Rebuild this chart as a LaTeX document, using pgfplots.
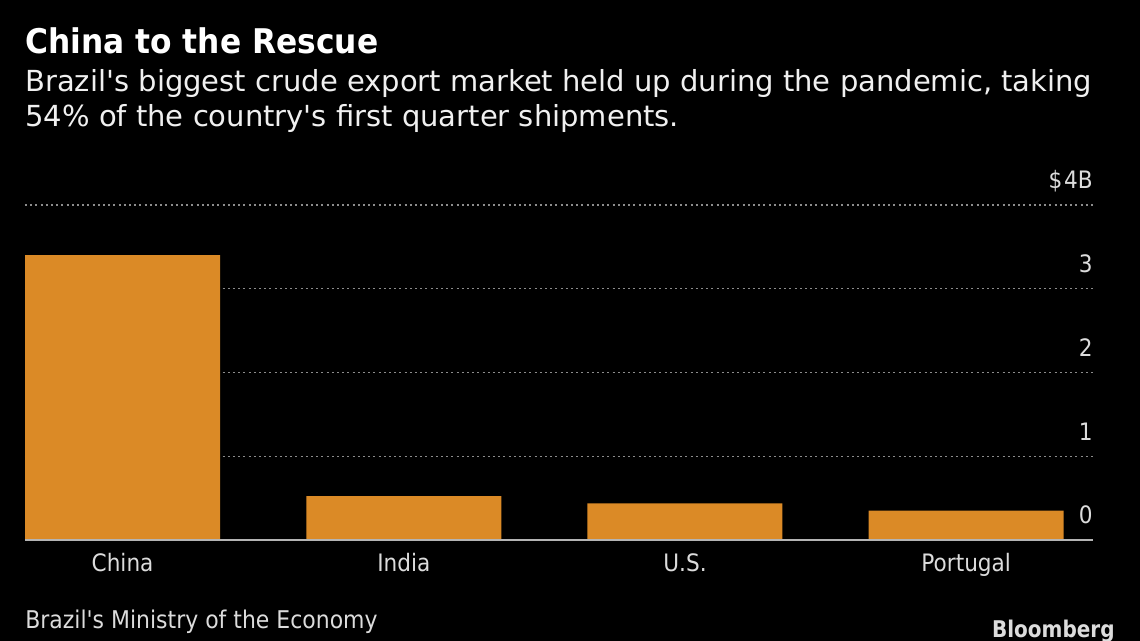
\documentclass[border=0pt]{standalone}
\usepackage{pgfplots}
\pgfplotsset{compat=1.18}
\usepackage{fontspec}
\setmainfont{DejaVu Sans}
\newfontfamily\titlefont[FakeStretch=0.92]{DejaVu Sans}
\newfontfamily\subfont{DejaVu Sans}
\newfontfamily\condfont[FakeStretch=0.9]{DejaVu Sans}
\newfontfamily\logofont[FakeStretch=0.87]{DejaVu Sans}
\definecolor{barorange}{HTML}{DB8A26}
\definecolor{gridgray}{HTML}{8C8C8C}
\definecolor{txt}{HTML}{F0F0F0}
\definecolor{lbl}{HTML}{DCDCDC}
\definecolor{axisgray}{HTML}{B4B4B4}
\begin{document}
\begin{tikzpicture}
\path[use as bounding box] (0pt,0pt) rectangle (570pt,320.5pt);
\fill[black] (0pt,0pt) rectangle (570pt,320.5pt);
% title and subtitle
\node[anchor=base west, inner sep=0pt, text=white] at (12.5pt,293.5pt) {\titlefont\fontsize{17}{20}\selectfont\bfseries China to the Rescue};
\node[anchor=base west, inner sep=0pt, text=txt] at (12.5pt,274.5pt) {\subfont\fontsize{14.5}{16}\selectfont Brazil's biggest crude export market held up during the pandemic, taking};
\node[anchor=base west, inner sep=0pt, text=txt] at (12.5pt,257pt) {\subfont\fontsize{14.5}{16}\selectfont 54\% of the country's first quarter shipments.};
\begin{axis}[
  at={(12.5pt,50.5pt)}, anchor=south west,
  scale only axis, width=534pt, height=167.5pt,
  xmin=-0.347, xmax=3.451, ymin=0, ymax=4,
  axis line style={draw=none},
  xtick=data, xticklabels={China,India,U.S.,Portugal},
  ytick={0,1,2,3,4}, yticklabels={0,1,2,3,{\$\kern0.8pt4B}},
  yticklabel pos=right,
  major tick length=0pt,
  tick style={draw=none},
  ymajorgrids,
  grid style={gridgray, line width=0.7pt, dash pattern=on 1pt off 1.6pt},
  yticklabel style={anchor=base east, inner sep=0pt, xshift=0pt, yshift=8pt, text=lbl, font=\condfont\fontsize{12}{13}\selectfont},
  xticklabel style={anchor=base, inner sep=0pt, yshift=-16pt, text=lbl, font=\condfont\fontsize{12}{13}\selectfont},
  /pgf/number format/assume math mode=true,
  ybar, bar width=97.5pt,
  clip=false,
]
\addplot[fill=barorange, draw=none, bar shift=0pt] coordinates {(0,3.40) (1,0.525) (2,0.438) (3,0.35)};
\draw[axisgray, line width=0.8pt] (axis cs:-0.347,0) -- (axis cs:3.451,0);
\end{axis}
\node[anchor=base west, inner sep=0pt, text=lbl] at (12.5pt,6pt) {\condfont\fontsize{12.2}{13}\selectfont Brazil's Ministry of the Economy};
\node[anchor=base east, inner sep=0pt, text=lbl] at (557.5pt,1.5pt) {\logofont\fontsize{11.5}{13}\selectfont\bfseries Bloomberg};
\end{tikzpicture}
\end{document}
